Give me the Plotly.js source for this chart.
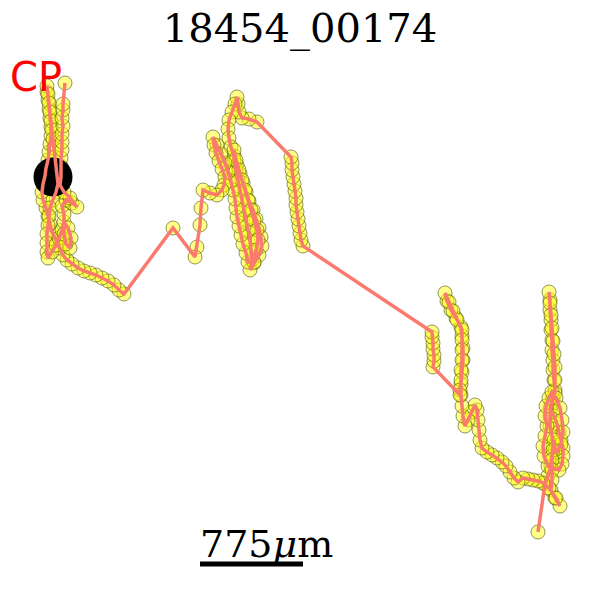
<!DOCTYPE html>
<html>
<head>
<meta charset="utf-8">
<script src="https://cdn.plot.ly/plotly-3.0.1.min.js"></script>
<style>html,body{margin:0;padding:0;background:#fff}#chart{width:600px;height:600px}</style>
</head>
<body>
<div id="chart"></div>
<script>
// Track positions (image-plane units, y grows downward)
const trackX = [538,545,548,551,552,553,552,550,550,551,553,555,554,553,553,552,552,551,551,550,550,549,
550,551,552,553,554,555,555,555,552,550,554,557,559,561,563,563,562,559,
548,544,543,545,547,545,546,549,552,556,560,562,563,561,
557,555,554,553,552,552,552,551,555,560,556,549,543,
538,533,528,523,518,514,510,506,502,497,492,487,482,480,479,478,477,475,472,468,465,463,462,461,461,462,463,463,462,461,456,451,447,445,
449,453,457,462,462,462,462,461,461,460,460,
433,434,434,433,433,432,432,
303,301,300,299,298,297,296,296,295,294,293,292,292,291,
257,249,242,239,238,237,235,232,229,228,229,231,234,237,240,243,246,249,253,256,259,261,262,259,254,250,
252,251,250,248,246,244,242,240,238,236,234,234,236,239,242,245,248,251,254,257,258,256,254,
248,246,243,241,239,237,236,235,233,231,228,225,221,217,213,214,216,219,222,225,224,222,217,210,203,201,200,197,195,
173,124,119,114,108,102,96,90,84,78,72,67,63,60,56,
52,50,48,46,43,42,43,45,46,48,49,50,51,51,50,49,48,47,47,
48,49,50,51,52,53,54,55,56,57,58,56,53,50,49,48,47,47,47,48,
52,56,59,62,64,68,71,70,66,64,64,62,66,72,77,70,64,60,61,61,61,62,62,62,63,62,63,63,65];
const trackY = [532,484,476,466,456,446,436,426,416,406,398,390,380,370,360,350,340,330,320,310,300,292,
303,315,328,341,354,367,380,393,401,409,416,424,432,440,448,456,464,470,
466,456,446,436,426,416,406,398,392,398,408,420,432,444,
452,450,440,450,460,470,480,490,498,506,498,488,483,
481,480,479,478,482,478,472,466,462,458,455,452,448,440,430,420,410,405,412,420,426,416,406,395,384,372,360,348,336,327,318,310,301,293,
302,311,320,330,340,350,360,370,380,390,395,
367,361,355,349,343,337,332,
246,240,233,226,219,212,205,198,191,184,177,170,163,157,
122,119,118,112,104,97,104,112,120,129,138,147,156,165,174,183,192,201,210,219,228,237,246,255,263,270,
260,250,240,230,220,210,200,190,180,170,160,150,160,170,180,190,200,210,220,230,240,250,262,
262,253,244,235,226,217,208,199,190,181,172,163,154,145,137,145,153,161,169,177,185,190,195,193,190,208,225,247,257,
228,294,290,285,281,278,275,273,271,268,264,260,255,248,240,
232,224,216,208,200,192,184,176,168,160,152,144,136,127,118,109,100,92,86,
94,103,112,121,130,139,148,157,166,175,184,192,200,208,216,225,234,243,252,258,
252,245,238,230,222,228,238,248,244,234,214,206,200,203,207,198,192,185,177,166,158,150,142,134,126,118,110,104,83];
// Centre of the reference point
const refX = [53];
const refY = [177];
// Labels
const titleText = "18454_00174";
const markLabel = "CP";
const scaleLabel = "775<i>μ</i>m";
const scaleBarX = [200, 303];
const scaleBarY = 564;

const traces = [
  {x: trackX, y: trackY, type: 'scatter', mode: 'markers', hoverinfo: 'skip',
   marker: {size: 14, color: 'rgba(255,255,20,0.5)', line: {color: 'rgba(60,60,0,0.55)', width: 1}}},
  {x: refX, y: refY, type: 'scatter', mode: 'markers', hoverinfo: 'skip',
   marker: {size: 39, color: '#000000'}},
  {x: trackX, y: trackY, type: 'scatter', mode: 'lines', hoverinfo: 'skip',
   line: {color: '#fa7b6e', width: 3.5}}
];

const layout = {
  width: 600, height: 600,
  margin: {l: 0, r: 0, t: 0, b: 0},
  paper_bgcolor: '#ffffff', plot_bgcolor: '#ffffff',
  showlegend: false,
  title: {text: titleText, x: 0.5, xanchor: 'center', y: 1 - 28/600, yanchor: 'middle', yref: 'container',
          font: {family: 'DejaVu Serif', size: 40, color: '#000'}},
  xaxis: {range: [0, 600], visible: false, fixedrange: true},
  yaxis: {range: [600, 0], visible: false, fixedrange: true},
  shapes: [
    {type: 'line', xref: 'x', yref: 'y', x0: scaleBarX[0], x1: scaleBarX[1], y0: scaleBarY, y1: scaleBarY,
     line: {color: '#000', width: 5}}
  ],
  annotations: [
    {text: markLabel, x: 36, y: 77, xref: 'x', yref: 'y', showarrow: false,
     font: {family: 'DejaVu Sans', size: 40, color: '#ff0000'}},
    {text: scaleLabel, x: 266, y: 544, xref: 'x', yref: 'y', showarrow: false,
     font: {family: 'DejaVu Serif', size: 38, color: '#000'}}
  ]
};

Plotly.newPlot('chart', traces, layout, {displayModeBar: false, staticPlot: true});
</script>
</body>
</html>
